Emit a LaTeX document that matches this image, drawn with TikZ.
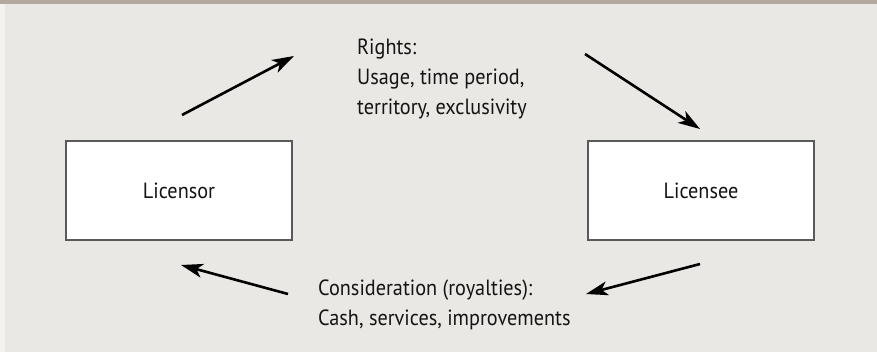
\documentclass[tikz,border=0pt]{standalone}
\usepackage{fontspec}
\setmainfont{PT Sans}[FakeStretch=0.92]
\usetikzlibrary{arrows.meta}

\definecolor{panel}{RGB}{234,232,228}
\definecolor{topbar}{RGB}{178,168,155}
\definecolor{edge}{RGB}{243,242,239}
\definecolor{ink}{RGB}{20,20,20}

\begin{document}
\begin{tikzpicture}[x=1pt,y=-1pt,
    party/.style={draw=black!65, line width=1.2pt, fill=white, text=ink,
        minimum width=226pt, minimum height=99pt, font=\fontsize{22}{26}\selectfont},
    flow/.style={line width=2.6pt, -{Stealth[length=22pt,width=14pt,inset=6pt]}},
    terms/.style={align=left, anchor=base west, inner sep=0pt, text=ink,
        font=\fontsize{22}{30}\selectfont}]
    \fill[panel] (0,0) rectangle (877,352);
    \useasboundingbox (0,0) rectangle (877,352);
    \fill[edge] (0,0) rectangle (5,352);
    \fill[topbar] (0,0) rectangle (877,4.5);

    \node[party] (licensor) at (179,190.5) {Licensor};
    \node[party] (licensee) at (701,190.5) {Licensee};

    % base anchor sits on the last line
    \node[terms] (rights) at (357,115) {Rights:\\Usage, time period,\\territory, exclusivity};
    \node[terms] (pay) at (318,325) {Consideration (royalties):\\Cash, services, improvements};

    \coordinate (r1) at (182,115);
    \coordinate (r2) at (294,56);
    \coordinate (r3) at (585,54);
    \coordinate (r4) at (700,129);
    \coordinate (c1) at (700,264);
    \coordinate (c2) at (586,294);
    \coordinate (c3) at (288,294);
    \coordinate (c4) at (181,265);

    \draw[flow] (r1) -- (r2);
    \draw[flow] (r3) -- (r4);
    \draw[flow] (c1) -- (c2);
    \draw[flow] (c3) -- (c4);
\end{tikzpicture}
\end{document}
